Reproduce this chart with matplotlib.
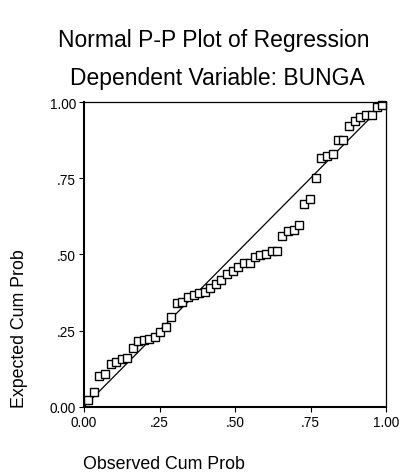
import numpy as np
import matplotlib
matplotlib.use("Agg")
import matplotlib.pyplot as plt

plt.rcParams['font.family'] = ['Liberation Sans', 'DejaVu Sans']

# observed vs expected cumulative probability
observed = [0.013, 0.032, 0.050, 0.069, 0.088, 0.106, 0.125, 0.144, 0.161, 0.179,
            0.197, 0.216, 0.234, 0.252, 0.270, 0.289, 0.308, 0.326, 0.345, 0.363,
            0.381, 0.399, 0.418, 0.436, 0.455, 0.474, 0.493, 0.511, 0.529, 0.548,
            0.566, 0.584, 0.602, 0.621, 0.640, 0.657, 0.675, 0.694, 0.712, 0.729,
            0.749, 0.767, 0.785, 0.805, 0.824, 0.840, 0.859, 0.878, 0.896, 0.915,
            0.934, 0.952, 0.969, 0.986]
expected = [0.022, 0.048, 0.100, 0.108, 0.139, 0.147, 0.156, 0.160, 0.194, 0.216,
            0.219, 0.223, 0.229, 0.245, 0.263, 0.296, 0.339, 0.343, 0.361, 0.367,
            0.373, 0.376, 0.391, 0.404, 0.416, 0.435, 0.445, 0.459, 0.472, 0.473,
            0.491, 0.499, 0.500, 0.511, 0.511, 0.560, 0.576, 0.580, 0.597, 0.665,
            0.682, 0.752, 0.816, 0.824, 0.830, 0.877, 0.877, 0.920, 0.938, 0.952,
            0.958, 0.959, 0.985, 0.989]

ticks = [0.0, 0.25, 0.5, 0.75, 1.0]
tick_labels = ['0.00', '.25', '.50', '.75', '1.00']

fig = plt.figure(figsize=(4.11, 4.77), dpi=100)
ax = fig.add_axes([0.2044, 0.1453, 0.7348, 0.6387])

ax.plot([0, 1], [0, 1], color='black', lw=0.9)
ax.plot(observed, expected, linestyle='none', marker='s', markersize=5.5,
        markerfacecolor='white', markeredgecolor='black', markeredgewidth=1.0,
        clip_on=False)

ax.set_xlim(0, 1)
ax.set_ylim(0, 1)
ax.set_xticks(ticks)
ax.set_xticklabels(tick_labels)
ax.set_yticks(ticks)
ax.set_yticklabels(tick_labels)
ax.tick_params(direction='out', length=3.8, width=0.8, labelsize=9.8, pad=2,
               top=False, right=False, colors='black')

for side in ['left', 'bottom']:
    ax.spines[side].set_linewidth(1.5)
for side in ['top', 'right']:
    ax.spines[side].set_linewidth(0.9)

fig.text(214 / 411, 1 - 40 / 477, 'Normal P-P Plot of Regression',
         ha='center', va='center', fontsize=16.5)
fig.text(217 / 411, 1 - 78 / 477, 'Dependent Variable: BUNGA',
         ha='center', va='center', fontsize=16.5)

fig.text(83 / 411, 1 - 465 / 477, 'Observed Cum Prob',
         ha='left', va='center', fontsize=12.8)
fig.text(20 / 411, 0.1453, 'Expected Cum Prob', rotation=90,
         ha='center', va='bottom', fontsize=12.8)

fig.savefig('out.png', dpi=100)
